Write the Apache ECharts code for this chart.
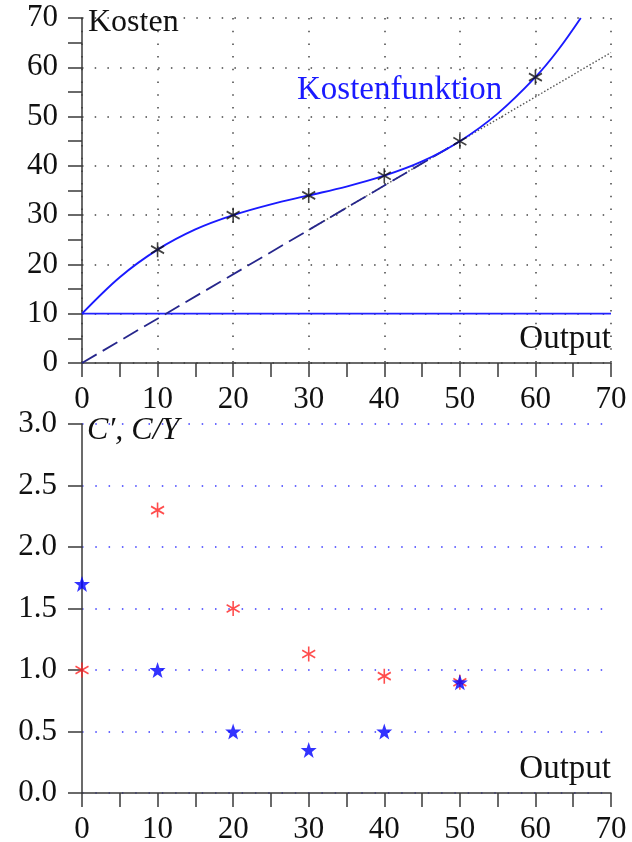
<!DOCTYPE html>
<html>
<head>
<meta charset="utf-8">
<script src="https://cdn.jsdelivr.net/npm/echarts@6/dist/echarts.min.js"></script>
<style>
  html, body { margin: 0; padding: 0; background: #fff; }
  #chart { width: 632px; height: 842px; }
</style>
</head>
<body>
<div id="chart"></div>
<script>
// ---- data ----
const xTicks = [0, 10, 20, 30, 40, 50, 60, 70];
// cost function curve C(Y)
const costCurveX = [0, 5, 10, 15, 20, 25, 30, 35, 40, 45, 50, 55, 60, 63, 66];
const costCurveY = [10, 17.4, 23, 27.1, 30, 32.2, 34, 35.8, 38, 40.9, 45, 50.6, 58, 63.5, 70];
// marked observations
const obsX = [10, 20, 30, 40, 50, 60];
const obsY = [23, 30, 34, 38, 45, 58];
// fixed cost line
const fixedX = [0, 70];
const fixedY = [10, 10];
// ray from origin (dashed part) and its dotted continuation
const rayDashX = [0, 50];
const rayDashY = [0, 45];
const rayDotX = [30, 70];
const rayDotY = [27, 63];
// lower panel: average cost C/Y (red) and marginal cost C' (blue)
const avgX = [0, 10, 20, 30, 40, 50];
const avgY = [1.0, 2.3, 1.5, 1.13, 0.95, 0.9];
const margX = [0, 10, 20, 30, 40, 50];
const margY = [1.7, 1.0, 0.5, 0.35, 0.5, 0.9];

const pairs = (xs, ys) => xs.map((x, i) => [x, ys[i]]);

const FONT = '"Liberation Serif", "DejaVu Serif", serif';
const AXIS_COLOR = '#3a3a3a';
const ASTERISK = 'path://M0,-10L0,10M-8.66,-5L8.66,5M-8.66,5L8.66,-5';
const STAR = 'path://M0,-10L2.35,-3.24L9.51,-3.09L3.8,1.24L5.88,8.09L0,4L-5.88,8.09L-3.8,1.24L-9.51,-3.09L-2.35,-3.24Z';

function xAxis(gridIndex, split) {
  return {
    type: 'value', gridIndex, min: 0, max: 70, interval: 10,
    axisLine: { show: true, onZero: false, lineStyle: { color: AXIS_COLOR, width: 1.5 } },
    axisTick: { show: true, length: 14, lineStyle: { color: AXIS_COLOR, width: 1.5 } },
    minorTick: { show: true, splitNumber: 2, length: 14, lineStyle: { color: AXIS_COLOR, width: 1.5 } },
    axisLabel: { fontFamily: FONT, fontSize: 31, color: '#111', margin: 21, showMinLabel: true, showMaxLabel: true },
    splitLine: split ? { show: true, lineStyle: { color: '#444', width: 1.5, type: [1.5, 11.2] } } : { show: false }
  };
}

const option = {
  animation: false,
  backgroundColor: '#fff',
  grid: [
    { left: 82, top: 18, width: 529, height: 345, containLabel: false, outerBoundsMode: 'none' },
    { left: 82, top: 424, width: 529, height: 369, containLabel: false, outerBoundsMode: 'none' }
  ],
  xAxis: [xAxis(0, true), xAxis(1, false)],
  yAxis: [
    {
      type: 'value', gridIndex: 0, min: 0, max: 70, interval: 10,
      axisLine: { show: true, onZero: false, lineStyle: { color: AXIS_COLOR, width: 1.5 } },
      axisTick: { show: true, length: 14, lineStyle: { color: AXIS_COLOR, width: 1.5 } },
      minorTick: { show: true, splitNumber: 2, length: 14, lineStyle: { color: AXIS_COLOR, width: 1.5 } },
      axisLabel: { fontFamily: FONT, fontSize: 31, color: '#111', margin: 24, showMinLabel: true, showMaxLabel: true },
      splitLine: { show: true, lineStyle: { color: '#444', width: 1.5, type: [1.5, 11.2] } }
    },
    {
      type: 'value', gridIndex: 1, min: 0, max: 3, interval: 0.5,
      axisLine: { show: true, onZero: false, lineStyle: { color: AXIS_COLOR, width: 1.5 } },
      axisTick: { show: true, length: 14, lineStyle: { color: AXIS_COLOR, width: 1.5 } },
      axisLabel: { fontFamily: FONT, fontSize: 31, color: '#111', margin: 25, showMinLabel: true, showMaxLabel: true,
        formatter: v => v.toFixed(1) },
      splitLine: { show: true, lineStyle: { color: '#3838ff', width: 1.5, type: [1.5, 11.8] } }
    }
  ],
  series: [
    { name: 'Fixkosten', type: 'line', xAxisIndex: 0, yAxisIndex: 0, data: pairs(fixedX, fixedY),
      symbol: 'none', lineStyle: { color: '#2222ff', width: 1.8 }, z: 2 },
    { name: 'Strahl punktiert', type: 'line', xAxisIndex: 0, yAxisIndex: 0, data: pairs(rayDotX, rayDotY),
      symbol: 'none', lineStyle: { color: '#555', width: 1.4, type: [1.5, 2] }, z: 2 },
    { name: 'Strahl', type: 'line', xAxisIndex: 0, yAxisIndex: 0, data: pairs(rayDashX, rayDashY),
      symbol: 'none', lineStyle: { color: '#26268c', width: 1.8, type: [17, 7] }, z: 3 },
    { name: 'Kostenfunktion', type: 'line', xAxisIndex: 0, yAxisIndex: 0, data: pairs(costCurveX, costCurveY),
      symbol: 'none', smooth: 0.35, lineStyle: { color: '#1a1aff', width: 1.9 }, z: 4 },
    { name: 'Beobachtungen', type: 'scatter', xAxisIndex: 0, yAxisIndex: 0, data: pairs(obsX, obsY),
      symbol: ASTERISK, symbolSize: [13, 15],
      itemStyle: { color: 'rgba(0,0,0,0)', borderColor: '#111', borderWidth: 1.7 }, z: 5 },
    { name: 'C/Y', type: 'scatter', xAxisIndex: 1, yAxisIndex: 1, data: pairs(avgX, avgY),
      symbol: ASTERISK, symbolSize: [13, 15],
      itemStyle: { color: 'rgba(0,0,0,0)', borderColor: '#ff2020', borderWidth: 1.7 }, z: 5 },
    { name: "C'", type: 'scatter', xAxisIndex: 1, yAxisIndex: 1, data: pairs(margX, margY),
      symbol: STAR, symbolSize: [16, 16],
      itemStyle: { color: '#0000ff', borderWidth: 0 }, z: 6 }
  ],
  graphic: [
    { type: 'text', x: 88, y: 23, z: 10,
      style: { text: 'Kosten', font: '32px ' + FONT, fill: '#111', align: 'left', verticalAlign: 'middle' } },
    { type: 'text', x: 297, y: 90, z: 10,
      style: { text: 'Kostenfunktion', font: '33px ' + FONT, fill: '#1a1aff', align: 'left', verticalAlign: 'middle' } },
    { type: 'text', x: 611, y: 339, z: 10,
      style: { text: 'Output', font: '33px ' + FONT, fill: '#111', align: 'right', verticalAlign: 'middle' } },
    { type: 'text', x: 87, y: 431, z: 10,
      style: { text: 'C′, C/Y', font: 'italic 32px ' + FONT, fill: '#111', align: 'left', verticalAlign: 'middle' } },
    { type: 'text', x: 611, y: 769, z: 10,
      style: { text: 'Output', font: '33px ' + FONT, fill: '#111', align: 'right', verticalAlign: 'middle' } }
  ]
};

const chart = echarts.init(document.getElementById('chart'), null, { renderer: 'canvas' });
chart.setOption(option);
</script>
</body>
</html>
